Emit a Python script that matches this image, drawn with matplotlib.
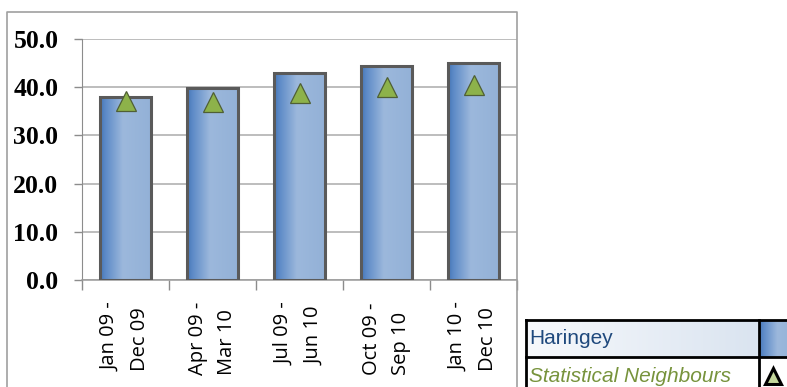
import numpy as np
import matplotlib.pyplot as plt
from matplotlib.colors import LinearSegmentedColormap
from matplotlib.patches import Rectangle

# data
periods = ['Jan 09 -\nDec 09', 'Apr 09 -\nMar 10', 'Jul 09 -\nJun 10',
           'Oct 09 -\nSep 10', 'Jan 10 -\nDec 10']
haringey = [37.9, 39.9, 42.9, 44.5, 45.1]
neighbours = [37.1, 36.9, 38.8, 40.0, 40.4]
yticks = [0, 10, 20, 30, 40, 50]

W, H = 787, 387
fig = plt.figure(figsize=(W / 100, H / 100), dpi=100)

# plot area in pixel terms
left, right, top, bottom = 82, 517, 39, 280
ax = fig.add_axes([left / W, (H - bottom) / H, (right - left) / W, (bottom - top) / H])

bar_cmap = LinearSegmentedColormap.from_list(
    'bar', [(0, '#4677b8'), (0.12, '#5f8cc8'), (0.45, '#9cb8dc'), (1, '#93b1d7')])

x = np.arange(len(periods))
bars = ax.bar(x, haringey, width=0.58, facecolor='none', edgecolor='#5a5a5a',
              linewidth=2.2, zorder=4)
grad = np.linspace(0, 1, 256).reshape(1, -1)
for b in bars:
    x0, y0 = b.get_x(), b.get_y()
    im = ax.imshow(grad, cmap=bar_cmap, aspect='auto', zorder=3,
                   extent=[x0, x0 + b.get_width(), y0, y0 + b.get_height()])
    im.set_clip_path(b)

ax.plot(x, neighbours, linestyle='none', marker='^', markersize=14.5,
        markerfacecolor='#8db24a', markeredgecolor='#4f5f35', markeredgewidth=0.9,
        zorder=6)

ax.set_xlim(-0.5, len(periods) - 0.5)
ax.set_ylim(0, 50)
ax.set_yticks(yticks)
ax.set_yticklabels(['%.1f' % v for v in yticks], fontfamily='Liberation Serif',
                   fontweight='bold', fontsize=18.5)
ax.tick_params(axis='y', length=6, width=1, color='#8c8c8c', pad=11)

ax.set_xticks(x)
ax.set_xticklabels(periods, rotation=90, fontfamily='Open Sans', fontsize=14.5,
                   linespacing=1.65, multialignment='left')
ax.tick_params(axis='x', which='major', length=0, pad=16)
ax.set_xticks(np.arange(len(periods) + 1) - 0.5, minor=True)
ax.tick_params(axis='x', which='minor', length=7, width=1, color='#8c8c8c')

ax.grid(axis='y', color='#ababab', linewidth=1.1, zorder=0)
ax.set_axisbelow(True)
for s in ['top', 'right']:
    ax.spines[s].set_visible(False)
ax.spines['left'].set_color('#8c8c8c')
ax.spines['bottom'].set_color('#9a9a9a')
ax.spines['bottom'].set_linewidth(1.1)

# overlay in pixel coordinates: chart frame and legend table
ov = fig.add_axes([0, 0, 1, 1], zorder=10)
ov.set_xlim(0, W)
ov.set_ylim(H, 0)
ov.axis('off')
ov.patch.set_alpha(0)

ov.plot([7, 7, 517, 517], [H + 5, 12, 12, H + 5], color='#a0a0a0', linewidth=1.2)

# legend row backgrounds
row_cmap = LinearSegmentedColormap.from_list('row', ['#f7f9fc', '#dae4f0'])
ov.imshow(grad, cmap=row_cmap, aspect='auto', extent=[526, 759, 357, 320], zorder=1)
ov.imshow(grad, cmap=bar_cmap, aspect='auto', extent=[759, 800, 357, 320], zorder=1)
ov.add_patch(Rectangle((526, 357), 300, 40, facecolor='white', zorder=1))
ov.set_xlim(0, W)
ov.set_ylim(H, 0)
for yy in [320, 357]:
    ov.plot([526, W + 5], [yy, yy], color='black', linewidth=2, zorder=3)
for xx in [526, 759]:
    ov.plot([xx, xx], [320, H + 5], color='black', linewidth=2, zorder=3)

ov.text(529, 339, 'Haringey', fontfamily='Liberation Sans', fontsize=15,
        color='#1f497d', va='center', ha='left', zorder=4)
ov.text(529, 376, 'Statistical Neighbours', fontfamily='Liberation Sans', fontsize=15,
        fontstyle='italic', color='#77933c', va='center', ha='left', zorder=4)
ov.plot([773], [376], linestyle='none', marker='^', markersize=11,
        markerfacecolor='#c3d69b', markeredgecolor='black', markeredgewidth=2.2, zorder=4)

fig.savefig('out.png', dpi=100)
